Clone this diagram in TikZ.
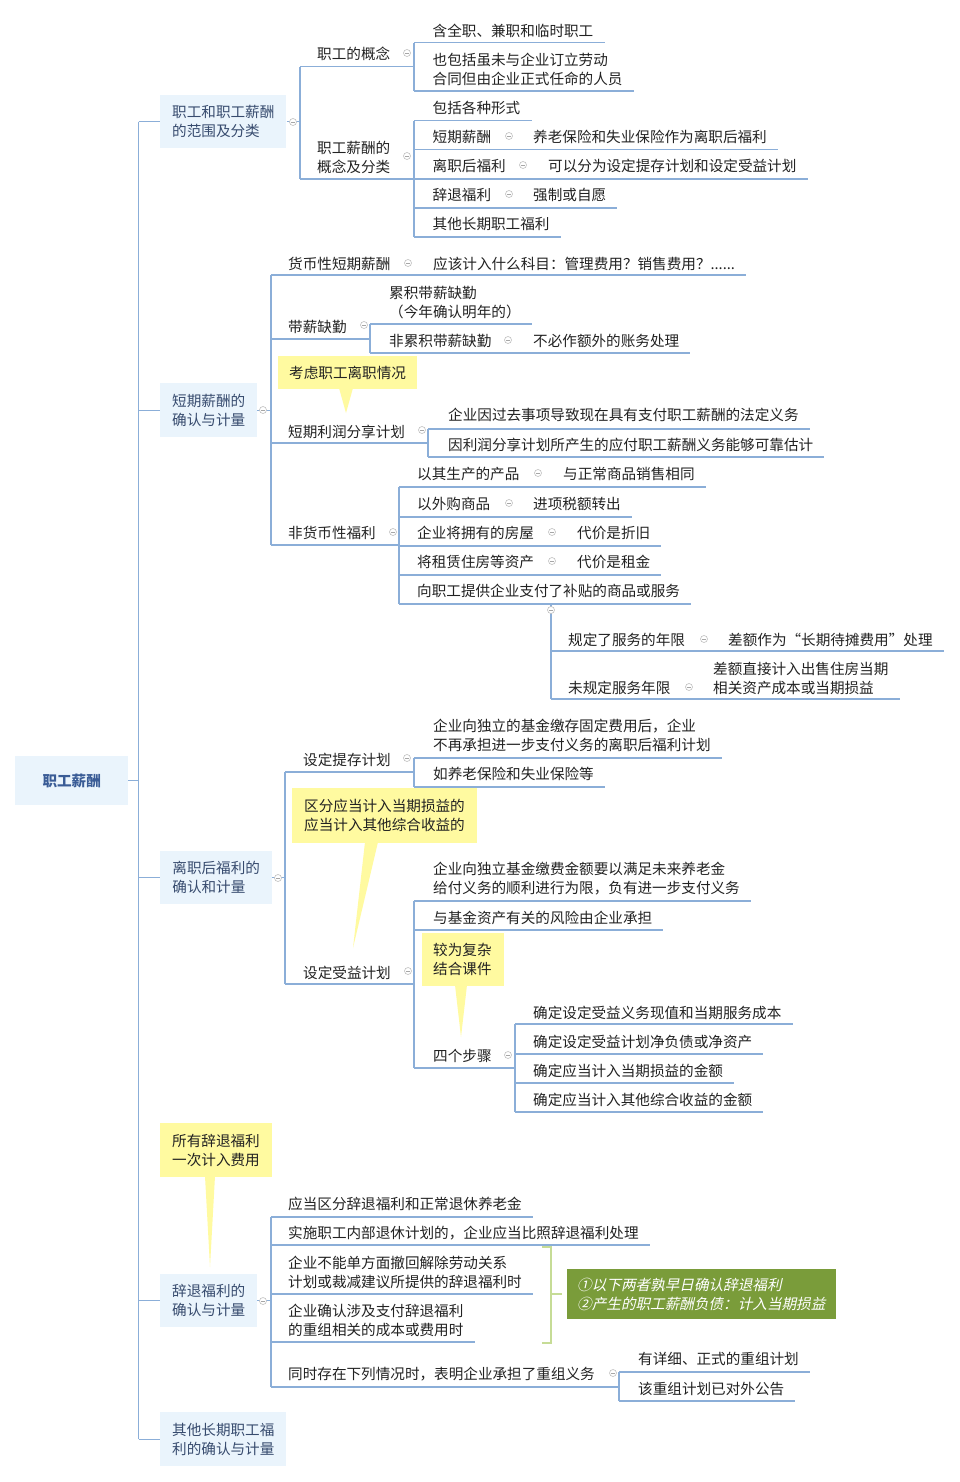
\documentclass[tikz,border=0pt]{standalone}
\usepackage{fontspec}
\newfontfamily\cjk{Noto Sans CJK SC}
\newfontfamily\cjkit[FakeSlant=0.22]{Noto Sans CJK SC}
\usetikzlibrary{calc}
\definecolor{linec}{RGB}{139,174,216}
\definecolor{boxc}{RGB}{234,244,252}
\definecolor{lonetxt}{RGB}{55,75,110}
\definecolor{roottxt}{RGB}{58,92,150}
\definecolor{txtc}{RGB}{34,34,34}
\definecolor{yelc}{RGB}{255,250,160}
\definecolor{brc}{RGB}{198,220,150}
\definecolor{grc}{RGB}{122,156,58}
\newcommand\undl[3]{\draw[ln] (#1,#2) -- (#3.east |- 0,#2) -- ++(11,0);}
\begin{document}
\begin{tikzpicture}[x=1pt,y=-1pt,
  ln/.style={draw=linec,line width=1.2pt},
  tx/.style={anchor=west,inner sep=0pt,yshift=-0.8pt,text=txtc,align=left,font=\cjk\fontsize{14.6}{19.3}\selectfont},
  lone/.style={anchor=north west,fill=boxc,inner xsep=12pt,inner ysep=0pt,text=lonetxt,align=left,font=\cjk\fontsize{14.6}{19.3}\selectfont},
  callout/.style={anchor=north west,fill=yelc,inner ysep=0pt,text=txtc,align=left,font=\cjk\fontsize{14.6}{19.3}\selectfont},
  cbtn/.pic={\filldraw[draw=black!25,fill=white,line width=0.6pt] (0,0) circle (3.5pt); \draw[black!35,line width=0.6pt] (-1.7,0) -- (1.7,0);}
]
\useasboundingbox (0,0) rectangle (960,1482);
\fill[white] (0,0) rectangle (960,1482);

% ---------- root and level 1 ----------
\node[lone, minimum width=113pt, minimum height=49pt, align=center, text=roottxt, font=\cjk\bfseries\fontsize{14.6}{19.3}\selectfont] (root) at (15,756) {职工薪酬};
\node[lone, minimum width=126pt, minimum height=53pt] (b1) at (160,95) {职工和职工薪酬\\的范围及分类};
\node[lone, minimum width=97pt, minimum height=54pt] (b2) at (160,383) {短期薪酬的\\确认与计量};
\node[lone, minimum width=112pt, minimum height=53pt] (b3) at (160,851) {离职后福利的\\确认和计量};
\node[lone, minimum width=97pt, minimum height=53pt] (b4) at (160,1274) {辞退福利的\\确认与计量};
\node[lone, minimum width=126pt, minimum height=54pt] (b5) at (160,1412) {其他长期职工福\\利的确认与计量};
\draw[ln] (b1.west -| 138.5,0) -- (b5.west -| 138.5,0);
\draw[ln] (root.east) -- (root.east -| 138.5,0);
\foreach \b in {b1,b2,b3,b4,b5} \draw[ln] (\b.west -| 138.5,0) -- (\b.west);

% ---------- b1 subtree ----------
\draw[ln] (b1.east) -- (b1.east -| 300,0);
\draw[ln] (300,66.7) -- (300,179);
\node[tx] (na) at (317,53) {职工的概念};
\draw[ln] (300,66.7) -- (414,66.7);
\draw[ln] (414,42.7) -- (414,91);
\node[tx] (na1) at (432.5,30) {含全职、兼职和临时职工};
\undl{414}{42.7}{na1}
\node[tx] (na2) at (432.5,68.5) {也包括虽未与企业订立劳动\\合同但由企业正式任命的人员};
\undl{414}{91}{na2}
\node[tx] (nb) at (317,156.5) {职工薪酬的\\概念及分类};
\draw[ln] (300,179) -- (414,179);
\draw[ln] (414,120.7) -- (414,237);
\node[tx] (nb1) at (432.5,107) {包括各种形式};
\undl{414}{120.7}{nb1}
\node[tx] (nb2) at (432.5,136) {短期薪酬};
\node[tx] (nb2c) at (533,136) {养老保险和失业保险作为离职后福利};
\undl{414}{149.7}{nb2c}
\node[tx] (nb3) at (432.5,165) {离职后福利};
\node[tx] (nb3c) at (548,165) {可以分为设定提存计划和设定受益计划};
\undl{414}{179}{nb3c}
\node[tx] (nb4) at (432.5,194) {辞退福利};
\node[tx] (nb4c) at (533,194) {强制或自愿};
\undl{414}{208}{nb4c}
\node[tx] (nb5) at (432.5,223) {其他长期职工福利};
\undl{414}{237}{nb5}

% ---------- b2 subtree ----------
\draw[ln] (b2.east) -- (b2.east -| 271,0);
\draw[ln] (271,275) -- (271,545);
\node[tx] (c1) at (288,263) {货币性短期薪酬};
\node[tx] (c1c) at (433,263) {应该计入什么科目：管理费用？销售费用？......};
\undl{271}{275}{c1c}
\node[tx] (c2) at (288,326) {带薪缺勤};
\draw[ln] (271,339) -- (370,339);
\draw[ln] (370,324) -- (370,353);
\node[tx] (c2a) at (389,301.5) {累积带薪缺勤\\（今年确认明年的）};
\undl{370}{324}{c2a}
\node[tx] (c2b) at (389,340) {非累积带薪缺勤};
\node[tx] (c2bc) at (533,340) {不必作额外的账务处理};
\undl{370}{353}{c2bc}
\node[tx] (c3) at (288,431) {短期利润分享计划};
\draw[ln] (271,443) -- (428,443);
\draw[ln] (428,429) -- (428,457);
\node[tx] (c3a) at (448,414) {企业因过去事项导致现在具有支付职工薪酬的法定义务};
\undl{428}{429}{c3a}
\node[tx] (c3b) at (448,444) {因利润分享计划所产生的应付职工薪酬义务能够可靠估计};
\undl{428}{457}{c3b}
\node[tx] (c4) at (288,532) {非货币性福利};
\draw[ln] (271,545) -- (399,545);
\draw[ln] (399,487) -- (399,604);
\node[tx] (c4a) at (417,473) {以其生产的产品};
\node[tx] (c4ac) at (563,473) {与正常商品销售相同};
\undl{399}{487}{c4ac}
\node[tx] (c4b) at (417,503) {以外购商品};
\node[tx] (c4bc) at (533,503) {进项税额转出};
\undl{399}{517}{c4bc}
\node[tx] (c4c) at (417,532) {企业将拥有的房屋};
\node[tx] (c4cc) at (577,532) {代价是折旧};
\undl{399}{546}{c4cc}
\node[tx] (c4d) at (417,561) {将租赁住房等资产};
\node[tx] (c4dc) at (577,561) {代价是租金};
\undl{399}{575}{c4dc}
\node[tx] (c4e) at (417,590) {向职工提供企业支付了补贴的商品或服务};
\undl{399}{604}{c4e}
\draw[ln] (551,604) -- (551,699);
\node[tx] (c4e1) at (568,639) {规定了服务的年限};
\node[tx] (c4e1c) at (728,639) {差额作为“长期待摊费用”处理};
\undl{551}{651}{c4e1c}
\node[tx] (c4e2) at (568,687) {未规定服务年限};
\node[tx] (c4e2c) at (713,677.5) {差额直接计入出售住房当期\\相关资产成本或当期损益};
\undl{551}{699}{c4e2c}
\fill[yelc] (339,388) -- (346,413) -- (353,388) -- cycle;
\node[callout, inner xsep=11pt, text width=117pt, minimum height=33pt] (k1) at (278,356) {考虑职工离职情况};

% ---------- b3 subtree ----------
\draw[ln] (b3.east) -- (b3.east -| 285,0);
\draw[ln] (285,772) -- (285,984);
\node[tx] (d1) at (303,759) {设定提存计划};
\draw[ln] (285,772) -- (414,772);
\draw[ln] (414,758) -- (414,787);
\node[tx] (d1a) at (433,734.5) {企业向独立的基金缴存固定费用后，企业\\不再承担进一步支付义务的离职后福利计划};
\undl{414}{758}{d1a}
\node[tx] (d1b) at (433,773) {如养老保险和失业保险等};
\undl{414}{787}{d1b}
\node[tx] (d2) at (303,972) {设定受益计划};
\draw[ln] (285,984) -- (414,984);
\draw[ln] (414,901) -- (414,1068);
\node[tx] (d2a) at (433,878) {企业向独立基金缴费金额要以满足未来养老金\\给付义务的顺利进行为限，负有进一步支付义务};
\undl{414}{901}{d2a}
\node[tx] (d2b) at (433,917) {与基金资产有关的风险由企业承担};
\undl{414}{930}{d2b}
\node[tx] (d2c) at (433,1055) {四个步骤};
\draw[ln] (414,1068) -- (515,1068);
\draw[ln] (515,1024) -- (515,1112);
\node[tx] (s1) at (533,1012) {确定设定受益义务现值和当期服务成本};
\undl{515}{1024}{s1}
\node[tx] (s2) at (533,1041) {确定设定受益计划净负债或净资产};
\undl{515}{1054}{s2}
\node[tx] (s3) at (533,1070) {确定应当计入当期损益的金额};
\undl{515}{1083}{s3}
\node[tx] (s4) at (533,1099) {确定应当计入其他综合收益的金额};
\undl{515}{1112}{s4}
\fill[yelc] (365,842) -- (353,948) -- (378,842) -- cycle;
\node[callout, inner xsep=12pt, text width=161pt, minimum height=55pt] (k2) at (292,788) {区分应当计入当期损益的\\应当计入其他综合收益的};
\fill[yelc] (455,985) -- (461,1037) -- (467,985) -- cycle;
\node[callout, inner xsep=11pt, text width=60pt, minimum height=53pt] (k3) at (422,933) {较为复杂\\结合课件};

% ---------- b4 subtree ----------
\draw[ln] (b4.east) -- (b4.east -| 271,0);
\draw[ln] (271,1217) -- (271,1387);
\node[tx] (e1) at (288,1203) {应当区分辞退福利和正常退休养老金};
\undl{271}{1217}{e1}
\node[tx] (e2) at (288,1232) {实施职工内部退休计划的，企业应当比照辞退福利处理};
\undl{271}{1245}{e2}
\node[tx] (e3) at (288,1271.5) {企业不能单方面撤回解除劳动关系\\计划或裁减建议所提供的辞退福利时};
\undl{271}{1294}{e3}
\node[tx] (e4) at (288,1319.5) {企业确认涉及支付辞退福利\\的重组相关的成本或费用时};
\undl{271}{1342}{e4}
\node[tx] (e5) at (288,1373) {同时存在下列情况时，表明企业承担了重组义务};
\draw[ln] (271,1387) -- (619,1387);
\draw[ln] (619,1372) -- (619,1401);
\node[tx] (e5a) at (638,1358) {有详细、正式的重组计划};
\undl{619}{1372}{e5a}
\node[tx] (e5b) at (638,1388) {该重组计划已对外公告};
\undl{619}{1401}{e5b}
\draw[brc, line width=2pt] (542,1247) -- (551,1247) -- (551,1343) -- (542,1343);
\draw[brc, line width=2pt] (551,1294) -- (562,1294);
\node[anchor=north west, fill=grc, inner xsep=10pt, inner ysep=0pt, text width=249pt, minimum height=50pt, text=white, align=left, font=\cjkit\fontsize{14.6}{19.3}\selectfont] (gbox) at (567,1269) {①以下两者孰早日确认辞退福利\\②产生的职工薪酬负债：计入当期损益};
\fill[yelc] (205,1176) -- (210,1267) -- (215,1176) -- cycle;
\node[callout, inner xsep=12pt, text width=88pt, minimum height=54pt] (k4) at (160,1123) {所有辞退福利\\一次计入费用};

% ---------- collapse buttons ----------
\foreach \p in {(293,122),(407,53),(407,156),(509,136),(523,165),(509,194),
  (263,410),(408,263),(364,325),(508,340),(422,430),(393,532),(538,473),(509,503),(552,532),(552,561),(551,610),(704,639),(689,687),
  (278,878),(407,758),(408,971),(508,1055),
  (263,1301),(613,1373)}
  \pic at \p {cbtn};
\end{tikzpicture}
\end{document}
